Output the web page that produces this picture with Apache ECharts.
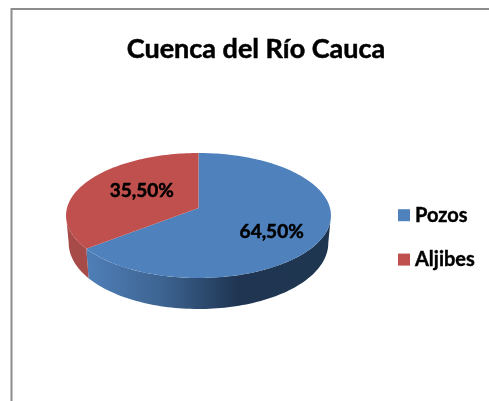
<!DOCTYPE html>
<html><head><meta charset="utf-8">
<style>html,body{margin:0;padding:0;background:#fff}#c{width:489px;height:401px}</style>
<script src="https://cdn.jsdelivr.net/npm/echarts@6/dist/echarts.min.js"></script>
</head><body><div id="c"></div>
<script>
var titleText = 'Cuenca del Río Cauca';
var categories = ['Pozos', 'Aljibes'];
var values = [64.5, 35.5];
var colors = ['#4f81bd', '#c0504d'];

var FONT = 'Lato, "Open Sans", sans-serif';
var geo = {x0: 198.5, y0: 208, B: 131.5, A: 61.6, p: -0.12, front: [97, 263]};
var labelOffsets = [[0, 7], [12, -1]];
var wallFills = [
  new echarts.graphic.LinearGradient(0, 0, 1, 0, [
    {offset: 0, color: '#4f7fb8'}, {offset: 0.3, color: '#3e6593'},
    {offset: 0.62, color: '#1f3552'}, {offset: 1, color: '#1f3650'}]),
  '#a64b48'
];
var total = values.reduce(function (a, b) { return a + b; }, 0);

function project(deg, r) {
  var t = deg * Math.PI / 180, u = r * Math.sin(t), v = -r * Math.cos(t);
  var d = 1 + geo.p * v;
  return [geo.x0 + geo.B * u / d, geo.y0 + geo.A * v / d, v];
}
function lower(deg) {
  var q = project(deg, 1);
  return [geo.x0 + (q[0] - geo.x0) * 0.98, q[1] + 27 + 4 * q[2]];
}
function arc(a, b) {
  var out = [], n = Math.max(2, Math.ceil(Math.abs(b - a) / 1.5));
  for (var i = 0; i <= n; i++) out.push(a + (b - a) * i / n);
  return out;
}
function makeRender(idx) {
  var start = 0;
  for (var k = 0; k < idx; k++) start += values[k] / total * 360;
  var end = start + values[idx] / total * 360;
  return function (params, api) {
    var children = [];
    var a = Math.max(start, geo.front[0]), b = Math.min(end, geo.front[1]);
    if (b > a) {
      var angs = arc(a, b), wall = angs.map(function (d) { return project(d, 1).slice(0, 2); });
      angs.slice().reverse().forEach(function (d) { wall.push(lower(d)); });
      children.push({type: 'polygon', shape: {points: wall}, style: {fill: wallFills[idx]}});
    }
    var top = [[geo.x0, geo.y0]].concat(arc(start, end).map(function (d) { return project(d, 1).slice(0, 2); }));
    children.push({type: 'polygon', shape: {points: top}, style: {fill: colors[idx]}});
    var m = project((start + end) / 2, 0.6);
    children.push({type: 'text', z2: 10, style: {
      x: m[0] + labelOffsets[idx][0], y: m[1] + labelOffsets[idx][1],
      text: api.value(0).toFixed(2).replace('.', ',') + '%',
      font: 'bold 19px ' + FONT, fill: '#000', stroke: '#000', lineWidth: 0.5,
      align: 'center', verticalAlign: 'middle'
    }});
    return {type: 'group', children: children};
  };
}
var chart = echarts.init(document.getElementById('c'), null, {renderer: 'canvas'});
chart.setOption({
  animation: false,
  backgroundColor: '#fff',
  title: {text: titleText, left: 251, top: 31, textAlign: 'center',
    textStyle: {fontFamily: FONT, fontWeight: 'bold', fontSize: 27, color: '#000',
      textBorderColor: '#000', textBorderWidth: 0.5}},
  legend: {orient: 'vertical', left: 393, top: 200, icon: 'rect', itemWidth: 12, itemHeight: 12, itemGap: 24,
    data: categories, selectedMode: false,
    textStyle: {fontFamily: FONT, fontWeight: 'bold', fontSize: 20, color: '#000',
      textBorderColor: '#000', textBorderWidth: 0.4}},
  graphic: [
    {type: 'polyline', silent: true, shape: {points: [[11.5, 401], [11.5, 9], [489, 9]]},
     style: {stroke: '#8c8c8c', lineWidth: 2, fill: null}}
  ],
  series: categories.map(function (name, i) {
    return {type: 'custom', name: name, coordinateSystem: 'none', silent: true,
      itemStyle: {color: colors[i]}, data: [values[i]], renderItem: makeRender(i)};
  })
});
</script></body></html>
